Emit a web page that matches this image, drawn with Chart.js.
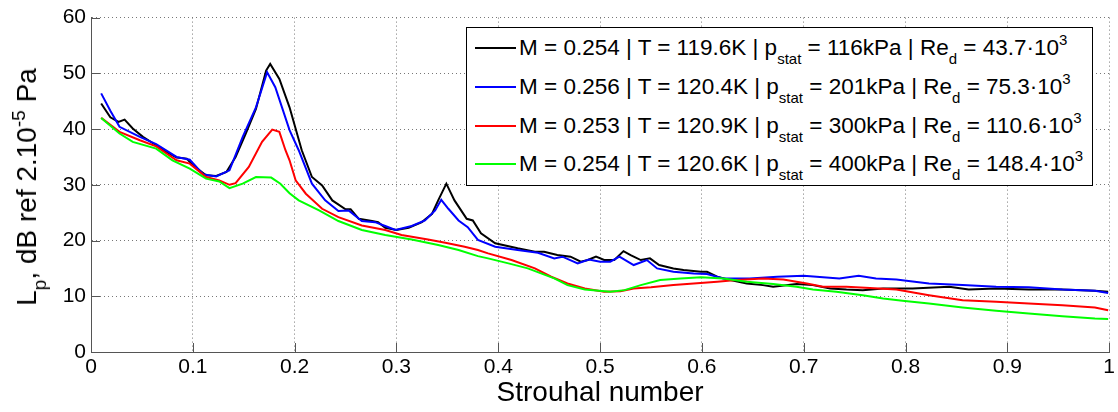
<!DOCTYPE html>
<html>
<head>
<meta charset="utf-8">
<script src="https://cdn.jsdelivr.net/npm/chart.js@4.4.0/dist/chart.umd.min.js"></script>
<style>
  html, body { margin: 0; padding: 0; background: #fff; }
  #wrap { position: relative; width: 1118px; height: 412px; font-family: "Liberation Sans", Arial, sans-serif; color: #000; }
  #ytitle { position: absolute; left: 27px; top: 187px; transform: translate(-50%, -50%) rotate(-90deg); font-size: 28px; white-space: nowrap; }
  #legend { position: absolute; left: 466px; top: 27px; width: 627px; height: 159px; border: 1px solid #000; background: #fff; box-sizing: border-box; }
  .row { position: absolute; left: 0; height: 38px; display: flex; align-items: center; font-size: 22.5px; white-space: nowrap; }
  .swatch { width: 41px; height: 2px; margin-left: 8px; margin-right: 3px; }
  .lo { font-size: 15px; position: relative; top: 9px; }
  .hi { font-size: 15px; position: relative; top: -10px; }
  .ylo { font-size: 19px; position: relative; top: 10px; }
  .yhi { font-size: 19px; position: relative; top: -11px; }
</style>
</head>
<body>
<div id="wrap">
  <canvas id="chart" width="1118" height="412"></canvas>
  <div id="ytitle">L<span class="ylo">p</span>, dB ref 2.10<span class="yhi">-5</span> Pa</div>
  <div id="legend"></div>
</div>
<script>
// Strouhal number (x) and sound pressure level in dB (y)
const blackX = [0.010, 0.019, 0.027, 0.033, 0.041, 0.051, 0.064, 0.074, 0.084, 0.094, 0.100, 0.113, 0.123, 0.133, 0.142, 0.152, 0.162, 0.172, 0.176, 0.185, 0.195, 0.207, 0.217, 0.227, 0.237, 0.250, 0.255, 0.263, 0.276, 0.282, 0.289, 0.300, 0.312, 0.325, 0.335, 0.341, 0.349, 0.357, 0.369, 0.375, 0.383, 0.397, 0.419, 0.436, 0.445, 0.458, 0.471, 0.481, 0.488, 0.496, 0.504, 0.514, 0.523, 0.530, 0.540, 0.549, 0.558, 0.572, 0.582, 0.599, 0.605, 0.615, 0.628, 0.644, 0.660, 0.670, 0.693, 0.709, 0.726, 0.742, 0.758, 0.778, 0.807, 0.843, 0.862, 0.889, 0.921, 0.954, 0.986, 0.999];
const blackY = [44.6, 42.1, 41.3, 41.7, 40.1, 38.6, 37.1, 35.9, 34.9, 34.7, 33.5, 31.7, 31.6, 32.3, 35.0, 39.2, 43.6, 50.5, 51.7, 49.0, 43.9, 36.2, 31.4, 29.9, 27.2, 25.6, 25.6, 23.9, 23.5, 23.3, 22.3, 21.9, 22.3, 23.3, 24.8, 27.2, 30.2, 27.2, 23.9, 23.6, 21.3, 19.5, 18.6, 18.0, 18.0, 17.4, 17.1, 16.2, 16.5, 17.1, 16.5, 16.5, 18.1, 17.4, 16.5, 16.8, 15.6, 15.0, 14.7, 14.4, 14.4, 13.5, 12.9, 12.3, 12.0, 11.7, 12.2, 12.0, 11.4, 11.2, 11.1, 11.4, 11.4, 11.7, 11.2, 11.4, 11.2, 11.2, 11.0, 10.8];

const blueX = [0.010, 0.019, 0.028, 0.048, 0.064, 0.084, 0.097, 0.110, 0.123, 0.136, 0.149, 0.162, 0.173, 0.181, 0.195, 0.204, 0.217, 0.230, 0.243, 0.253, 0.266, 0.279, 0.289, 0.299, 0.315, 0.328, 0.338, 0.344, 0.351, 0.361, 0.370, 0.380, 0.397, 0.419, 0.439, 0.455, 0.463, 0.478, 0.489, 0.500, 0.510, 0.519, 0.533, 0.546, 0.556, 0.572, 0.592, 0.605, 0.621, 0.647, 0.674, 0.700, 0.719, 0.735, 0.754, 0.771, 0.791, 0.823, 0.856, 0.889, 0.921, 0.954, 0.986, 0.999];
const blueY = [46.4, 43.3, 40.4, 38.6, 37.3, 35.0, 34.5, 31.9, 31.5, 32.6, 38.6, 43.9, 50.2, 47.5, 39.8, 36.2, 30.2, 27.2, 25.3, 25.4, 23.5, 23.3, 22.6, 21.9, 22.6, 23.6, 25.4, 27.3, 25.7, 23.6, 22.4, 20.1, 18.9, 18.3, 17.8, 16.8, 17.1, 15.9, 16.6, 16.2, 16.2, 17.1, 15.6, 16.5, 15.0, 14.4, 14.1, 14.0, 13.2, 13.2, 13.5, 13.7, 13.4, 13.2, 13.7, 13.2, 13.0, 12.3, 12.0, 11.7, 11.6, 11.2, 11.0, 10.6];

const redX = [0.010, 0.028, 0.048, 0.064, 0.084, 0.097, 0.113, 0.126, 0.136, 0.142, 0.155, 0.168, 0.178, 0.185, 0.191, 0.195, 0.201, 0.211, 0.227, 0.243, 0.266, 0.289, 0.305, 0.331, 0.348, 0.367, 0.380, 0.390, 0.413, 0.436, 0.452, 0.468, 0.485, 0.504, 0.520, 0.533, 0.550, 0.572, 0.592, 0.615, 0.634, 0.660, 0.680, 0.703, 0.719, 0.742, 0.765, 0.791, 0.823, 0.856, 0.889, 0.921, 0.954, 0.986, 0.999];
const redY = [42.0, 39.5, 38.0, 36.9, 34.4, 33.8, 31.4, 30.8, 30.0, 30.3, 33.2, 37.7, 39.9, 39.5, 36.2, 34.4, 30.8, 28.4, 25.7, 24.2, 22.7, 21.9, 21.0, 20.2, 19.6, 18.9, 18.3, 17.7, 16.5, 15.0, 13.5, 12.3, 11.4, 10.8, 10.9, 11.4, 11.6, 12.0, 12.3, 12.6, 12.9, 13.2, 13.0, 12.3, 11.7, 11.7, 11.5, 11.2, 10.2, 9.3, 9.0, 8.7, 8.4, 8.0, 7.5];

const greenX = [0.010, 0.028, 0.041, 0.064, 0.080, 0.097, 0.113, 0.126, 0.136, 0.149, 0.162, 0.177, 0.186, 0.195, 0.204, 0.224, 0.243, 0.266, 0.289, 0.315, 0.341, 0.361, 0.380, 0.390, 0.410, 0.429, 0.442, 0.455, 0.468, 0.485, 0.510, 0.524, 0.540, 0.559, 0.579, 0.599, 0.621, 0.644, 0.670, 0.693, 0.709, 0.732, 0.758, 0.778, 0.797, 0.823, 0.856, 0.889, 0.921, 0.954, 0.986, 0.999];
const greenY = [42.0, 39.2, 37.7, 36.5, 34.4, 32.9, 31.1, 30.6, 29.4, 30.2, 31.4, 31.3, 30.2, 28.5, 27.2, 25.4, 23.5, 21.9, 21.0, 20.2, 19.2, 18.3, 17.2, 16.8, 15.9, 15.0, 14.1, 13.2, 12.0, 11.2, 10.8, 11.1, 12.0, 12.9, 13.2, 13.4, 13.2, 12.6, 12.2, 11.7, 11.2, 10.8, 10.2, 9.6, 9.2, 8.7, 8.0, 7.4, 6.9, 6.4, 6.0, 5.9];

// legend entries
const machNumbers = ["0.254", "0.256", "0.253", "0.254"];
const temperatures = ["119.6K", "120.4K", "120.9K", "120.6K"];
const pressures = ["116kPa", "201kPa", "300kPa", "400kPa"];
const reynolds = ["43.7", "75.3", "110.6", "148.4"];
const colors = ["#000000", "#0000ff", "#ff0000", "#00ff00"];

const xTicks = [0, 0.1, 0.2, 0.3, 0.4, 0.5, 0.6, 0.7, 0.8, 0.9, 1];
const yTicks = [0, 10, 20, 30, 40, 50, 60];

const seriesX = [blackX, blueX, redX, greenX];
const seriesY = [blackY, blueY, redY, greenY];

const axisColor = "#555555";
const fontFamily = "'Liberation Sans', Arial, sans-serif";

// HTML legend (needs sub/superscripts)
const legendBox = document.getElementById("legend");
const rowTops = [1, 40, 79, 117];
machNumbers.forEach((m, i) => {
  const row = document.createElement("div");
  row.className = "row";
  row.style.top = rowTops[i] + "px";
  row.innerHTML =
    `<span class="swatch" style="background:${colors[i]}"></span>` +
    `<span>M = ${m} | T = ${temperatures[i]} | p<span class="lo">stat</span> = ${pressures[i]} | ` +
    `Re<span class="lo">d</span> = ${reynolds[i]}&middot;10<span class="hi">3</span></span>`;
  legendBox.appendChild(row);
});

// inward tick marks, like the original axes
const innerTicks = {
  id: "innerTicks",
  beforeDatasetsDraw(chart) {
    const { ctx, chartArea: a, scales: { x, y } } = chart;
    ctx.save();
    ctx.strokeStyle = axisColor;
    ctx.lineWidth = 1;
    ctx.beginPath();
    x.ticks.forEach(t => {
      const px = Math.round(x.getPixelForValue(t.value)) + 0.5;
      ctx.moveTo(px, a.bottom);
      ctx.lineTo(px, a.bottom - 9);
    });
    y.ticks.forEach(t => {
      const py = Math.round(y.getPixelForValue(t.value)) + 0.5;
      ctx.moveTo(a.left, py);
      ctx.lineTo(a.left + 9, py);
    });
    ctx.stroke();
    ctx.restore();
  }
};

new Chart(document.getElementById("chart"), {
  type: "line",
  data: {
    datasets: seriesX.map((xs, i) => ({
      data: xs.map((v, j) => ({ x: v, y: seriesY[i][j] })),
      borderColor: colors[i],
      borderWidth: 2,
      pointRadius: 0,
      tension: 0,
      fill: false,
      order: 4 - i
    }))
  },
  options: {
    responsive: false,
    animation: false,
    layout: { padding: { left: 0, right: 4, top: 17, bottom: 0 } },
    plugins: { legend: { display: false }, tooltip: { enabled: false } },
    scales: {
      x: {
        type: "linear",
        min: 0,
        max: 1,
        afterBuildTicks: s => { s.ticks = xTicks.map(v => ({ value: v })); },
        afterFit: s => { s.height = 60; },
        ticks: {
          color: "#000",
          padding: 3,
          maxRotation: 0,
          font: { family: fontFamily, size: 21 },
          callback: v => String(v)
        },
        grid: { color: "#777", lineWidth: 1, drawTicks: false },
        border: { color: axisColor, width: 1, dash: [1, 3] },
        title: {
          display: true,
          text: "Strouhal number",
          color: "#000",
          font: { family: fontFamily, size: 28 },
          padding: { top: 0, bottom: 2 }
        }
      },
      y: {
        min: 0,
        max: 60,
        afterBuildTicks: s => { s.ticks = yTicks.map(v => ({ value: v })); },
        afterFit: s => { s.width = 91; },
        ticks: {
          color: "#000",
          padding: 5,
          font: { family: fontFamily, size: 21 },
          callback: v => String(v)
        },
        grid: { color: "#777", lineWidth: 1, drawTicks: false },
        border: { color: axisColor, width: 1, dash: [1, 3] }
      }
    }
  },
  plugins: [innerTicks]
});
</script>
</body>
</html>
